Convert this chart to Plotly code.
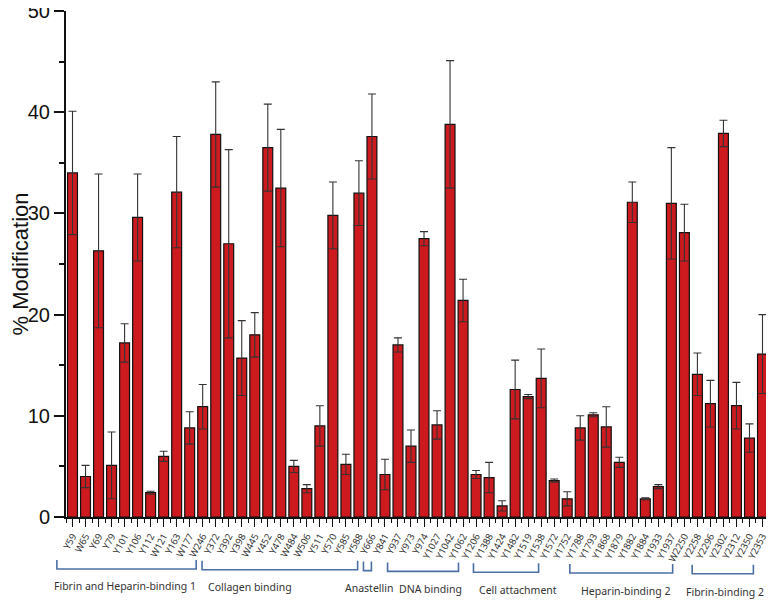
import plotly.graph_objects as go

SITIOS = ["Y59", "W65", "Y69", "Y79", "Y101", "Y106", "Y112", "W121", "Y163", "W177",
          "W246", "Y372", "Y392", "Y398", "W445", "Y452", "Y478", "W484", "W506", "Y511",
          "Y570", "Y585", "Y588", "Y666", "Y841", "Y937", "Y973", "Y974", "Y1027", "Y1042",
          "Y1062", "Y1206", "Y1388", "Y1424", "Y1482", "Y1519", "Y1538", "Y1572", "Y1752", "Y1788",
          "Y1793", "Y1868", "Y1879", "Y1882", "Y1884", "Y1933", "Y1937", "W2250", "Y2258", "Y2296",
          "Y2302", "Y2312", "Y2350", "Y2353"]

MODIFICACION = [34.0, 4.0, 26.3, 5.1, 17.2, 29.6, 2.4, 6.0, 32.1, 8.8,
                10.9, 37.8, 27.0, 15.7, 18.0, 36.5, 32.5, 5.0, 2.8, 9.0,
                29.8, 5.2, 32.0, 37.6, 4.2, 17.0, 7.0, 27.5, 9.1, 38.8,
                21.4, 4.2, 3.9, 1.1, 12.6, 11.9, 13.7, 3.6, 1.8, 8.8,
                10.1, 8.9, 5.4, 31.1, 1.8, 3.0, 31.0, 28.1, 14.1, 11.2,
                37.9, 11.0, 7.8, 16.1]

DESVIACION = [6.1, 1.1, 7.6, 3.3, 1.9, 4.3, 0.15, 0.5, 5.5, 1.6,
              2.2, 5.2, 9.3, 3.7, 2.2, 4.3, 5.8, 0.6, 0.4, 2.0,
              3.3, 1.0, 3.2, 4.2, 1.5, 0.7, 1.6, 0.7, 1.4, 6.3,
              2.1, 0.4, 1.5, 0.5, 2.9, 0.2, 2.9, 0.15, 0.7, 1.2,
              0.2, 2.0, 0.5, 2.0, 0.1, 0.2, 5.5, 2.8, 2.1, 2.3,
              1.3, 2.3, 1.4, 3.9]

# grupos: nombre, inicio y fin del corchete (en unidades de categoria)
GRUPOS = ["Fibrin and Heparin-binding 1", "Collagen binding", "Anastellin", "DNA binding",
          "Cell attachment", "Heparin-binding 2", "Fibrin-binding 2"]
GRUPO_INICIO = [-1.2, 9.95, 22.35, 24.2, 30.8, 38.2, 47.6]
GRUPO_FIN = [9.5, 21.9, 22.96, 29.65, 35.8, 46.1, 52.3]
GRUPO_TEXTO_X = [4.05, 13.65, 22.8, 27.5, 34.2, 42.5, 50.15]

AZUL = "#4b6fa5"
N = len(SITIOS)
ALTO_PLOT = 506


def px_a_paper(py):
    # py en pixeles de la pagina; el eje x esta en y=517
    return (517 - py) / ALTO_PLOT


def idx_a_paper(i):
    return (i + 0.5) / N


def main():

    x = list(range(N))

    fig = go.Figure()

    fig.add_trace(
        go.Bar(x=x,
               y=MODIFICACION,
               width=0.76,
               marker_color="#cc1a1e",
               marker_line_color="#111111",
               marker_line_width=1.2,
               error_y=dict(type="data", array=DESVIACION, visible=True,
                            color="#333333", thickness=1.1, width=4)))

    fig.update_xaxes(
        range=[-0.5, N - 0.5],
        automargin=False,
        tickvals=x,
        ticktext=SITIOS,
        tickangle=-62,
        tickfont=dict(size=9.5, color="#333333"),
        ticklabeloverflow="allow",
        ticks="outside",
        ticklen=8,
        tickwidth=1.2,
        tickcolor="#111111",
        showline=True,
        linecolor="#111111",
        linewidth=2,
        showgrid=False,
        zeroline=False,
        minor=dict(tick0=0.5, dtick=1, ticks="outside", ticklen=4,
                   tickwidth=1, tickcolor="#111111", showgrid=False)
    )

    fig.update_yaxes(
        range=[0, 50],
        automargin=False,
        tickvals=[0, 10, 20, 30, 40, 50],
        ticks="outside",
        ticklen=10,
        tickwidth=2,
        tickcolor="#111111",
        tickfont=dict(size=20, color="#111111", family="Liberation Sans"),
        ticklabeloverflow="allow",
        showline=True,
        linecolor="#111111",
        linewidth=2,
        showgrid=False,
        zeroline=False,
        title=dict(text="% Modification", font=dict(size=22, color="#111111", family="Liberation Sans"),
                   standoff=5),
        minor=dict(dtick=5, ticks="outside", ticklen=5, tickwidth=2,
                   tickcolor="#111111", showgrid=False)
    )

    shapes = []
    annotations = []
    for k, nombre in enumerate(GRUPOS):
        x0 = idx_a_paper(GRUPO_INICIO[k])
        x1 = idx_a_paper(GRUPO_FIN[k])
        y_base = px_a_paper(569 + k * 0.8)
        y_top = px_a_paper(560 + k * 0.8)
        shapes.append(dict(type="path", xref="paper", yref="paper",
                           path=f"M {x0},{y_top} L {x0},{y_base} L {x1},{y_base} L {x1},{y_top}",
                           line=dict(color=AZUL, width=1.6)))
        annotations.append(dict(x=idx_a_paper(GRUPO_TEXTO_X[k]),
                                y=px_a_paper(586 + k * 1.0),
                                xref="paper", yref="paper",
                                xanchor="center", yanchor="middle",
                                text=nombre, showarrow=False,
                                font=dict(size=10.5, color="#333333")))

    # la pagina deja 8 px de margen al cuerpo, se descuenta aqui
    fig.update_layout(
        showlegend=False,
        width=766,
        height=596,
        font_family="Noto Sans",
        margin=dict(t=3, l=58, r=5, b=87),
        paper_bgcolor="white",
        plot_bgcolor="white",
        shapes=shapes,
        annotations=annotations
    )

    fig.write_html("out.html")


if __name__ == "__main__":

    main()
